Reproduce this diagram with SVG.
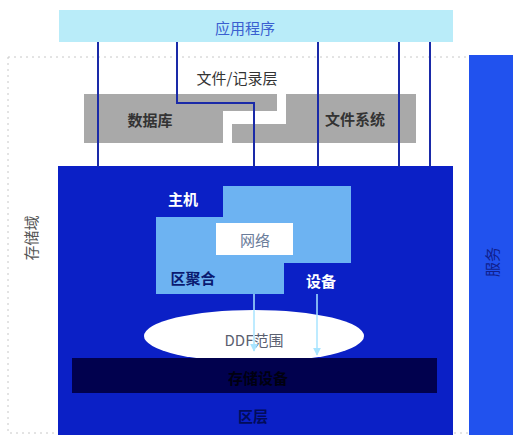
<svg xmlns="http://www.w3.org/2000/svg" width="513" height="440" viewBox="0 0 513 440">
<style>
text{font-family:"Noto Sans CJK SC","Liberation Sans",sans-serif;font-size:15px;text-anchor:middle;dominant-baseline:central}
.b{font-weight:bold}
.conn{stroke:#1a2aa8;stroke-width:2;fill:none}
.arr{stroke:#a8e4ff;stroke-width:1.5;fill:none}
.gray{fill:#a9a9a9}
</style>
<defs>
<marker id="ah" viewBox="0 0 10 10" refX="9" refY="5" markerWidth="8" markerHeight="12" orient="auto" markerUnits="userSpaceOnUse">
<path d="M0,0 L10,5 L0,10 z" fill="#a8e4ff"/>
</marker>
</defs>
<rect width="513" height="440" fill="#ffffff"/>
<g id="frame">
<path d="M8,57 H470 M8,57 V433 H470" stroke="#c8c8c8" stroke-width="1" stroke-dasharray="2,4" fill="none"/>
</g>
<g id="app">
<rect x="59" y="10" width="394" height="32" fill="#b9ecf9"/>
<text x="245" y="27" fill="#3a5fd0">应用程序</text>
</g>
<g id="services">
<rect x="469" y="55" width="44" height="380" fill="#2152ee"/>
<text x="491" y="262" fill="#10208c" transform="rotate(-90 491 262)">服务</text>
</g>
<g id="filerecord">
<text x="237" y="77" fill="#333">文件/记录层</text>
</g>
<g id="database">
<path class="gray" d="M84,94 H277 V111 H223 V143 H84 Z"/>
<text class="b" x="150" y="119" fill="#333">数据库</text>
</g>
<g id="filesystem">
<path class="gray" d="M286,94 H416 V143 H232 V124 H286 Z"/>
<text class="b" x="355" y="118" fill="#333">文件系统</text>
</g>
<g id="storagedomain">
<rect x="58" y="166" width="395" height="269" fill="#0b20c6"/>
<text x="30" y="238" fill="#555" transform="rotate(-90 30 238)">存储域</text>
</g>
<g id="connectors">
<path class="conn" d="M98,42 V167"/>
<path class="conn" d="M177,42 V103 H254 V167"/>
<path class="conn" d="M318,42 V167"/>
<path class="conn" d="M399,42 V167"/>
<path class="conn" d="M430,42 V167"/>
</g>
<g id="blockagg">
<path d="M223,186 H351 V263 H284 V294 H156 V217 H223 Z" fill="#6db3f2"/>
<text class="b" x="183" y="198" fill="#ffffff">主机</text>
<text class="b" x="193" y="277" fill="#0a1a70">区聚合</text>
<text class="b" x="321" y="280" fill="#ffffff">设备</text>
</g>
<g id="network">
<rect x="216" y="223" width="77" height="32" fill="#ffffff"/>
<text x="255" y="239" fill="#6a7c9a">网络</text>
</g>
<g id="ddf">
<ellipse cx="254" cy="336" rx="110" ry="26" fill="#ffffff"/>
<text x="254" y="339" fill="#5a6070">DDF范围</text>
</g>
<g id="arrows">
<path class="arr" d="M254,294 V351" marker-end="url(#ah)"/>
<path class="arr" d="M317,294 V355" marker-end="url(#ah)"/>
</g>
<g id="devices">
<rect x="72" y="358" width="365" height="35" fill="#01014e"/>
<text class="b" x="258" y="377" fill="#000010">存储设备</text>
</g>
<g id="blocklayer">
<text class="b" x="253" y="415" fill="#020c5a">区层</text>
</g>
</svg>
